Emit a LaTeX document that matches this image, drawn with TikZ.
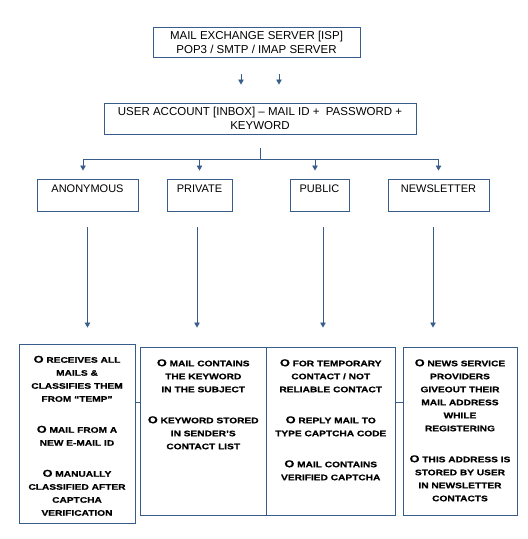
\documentclass[tikz,border=0pt]{standalone}
\usepackage{fontspec}
\setmainfont{Liberation Sans}
\newfontfamily\notefont{Liberation Sans Bold}[FakeStretch=1.27,FakeBold=0.6]
\usepackage{tikz}
\usetikzlibrary{positioning,arrows.meta}

\definecolor{linkblue}{HTML}{385D8A}
\newcommand\capO{{\fontsize{10}{13}\selectfont O}}

\begin{document}
\begin{tikzpicture}[
  x=1pt, y=-1pt,
  boxline/.style={draw=linkblue,line width=0.9pt,rectangle,inner sep=0pt},
  headbox/.style={boxline,align=center,font=\fontsize{11.5}{13.8}\selectfont},
  catbox/.style={boxline,minimum height=32pt},
  catlabel/.style={inner sep=2pt,font=\fontsize{11}{13}\selectfont},
  notebox/.style={boxline,minimum height=168pt},
  notetext/.style={inner sep=2pt,align=center,font=\notefont\fontsize{8}{13}\selectfont},
  line/.style={draw=linkblue,line width=0.8pt},
  flow/.style={line,-{Triangle[length=5pt,width=5.5pt]}}
]
\useasboundingbox (0,0) rectangle (528,539);

% server and account
\node[headbox,minimum width=207pt,minimum height=30pt] (server) at (256.5,42)
  {MAIL EXCHANGE SERVER [ISP]\\POP3 / SMTP / IMAP SERVER};
\node[headbox,minimum width=312pt,minimum height=31pt] (user) at (260,118.5)
  {USER ACCOUNT [INBOX] – MAIL ID +\ \ PASSWORD +\\KEYWORD};

% the four kinds of mail
\node[catbox,minimum width=101pt] (anon) at (87.5,195) {};
\node[catbox,minimum width=65pt] (priv) at (199.5,195) {};
\node[catbox,minimum width=59pt] (pub) at (319.5,195) {};
\node[catbox,minimum width=101pt] (news) at (438.5,195) {};
\node[catlabel,below=4.5pt of anon.north] (anonlbl) {ANONYMOUS};
\node[catlabel,below=4.5pt of priv.north] (privlbl) {PRIVATE};
\node[catlabel,below=4.5pt of pub.north] (publbl) {PUBLIC};
\node[catlabel,below=4.5pt of news.north] (newslbl) {NEWSLETTER};

% notes
\node[notebox,minimum width=116pt,minimum height=179pt] (note1) at (77,433.5) {};
\node[notebox,minimum width=126.5pt] (note2) at (203.25,431) {};
\node[notebox,minimum width=128.5pt] (note3) at (330.75,431) {};
\node[notebox,minimum width=114pt] (note4) at (460,431) {};

\node[notetext,below=10pt of note1.north] (note1txt)
  {\capO\ RECEIVES ALL\\MAILS \&\\CLASSIFIES THEM\\FROM “TEMP”\\[18pt]
   \capO\ MAIL FROM A\\NEW E-MAIL ID\\[18pt]
   \capO\ MANUALLY\\CLASSIFIED AFTER\\CAPTCHA\\VERIFICATION};
\node[notetext,below=10.5pt of note2.north] (note2txt)
  {\capO\ MAIL CONTAINS\\THE KEYWORD\\IN THE SUBJECT\\[18pt]
   \capO\ KEYWORD STORED\\IN SENDER’S\\CONTACT LIST};
\node[notetext,below=10.5pt of note3.north] (note3txt)
  {\capO\ FOR TEMPORARY\\CONTACT / NOT\\RELIABLE CONTACT\\[18pt]
   \capO\ REPLY MAIL TO\\TYPE CAPTCHA CODE\\[18pt]
   \capO\ MAIL CONTAINS\\VERIFIED CAPTCHA};
\node[notetext,below=10.5pt of note4.north] (note4txt)
  {\capO\ NEWS SERVICE\\PROVIDERS\\GIVEOUT THEIR\\MAIL ADDRESS\\WHILE\\REGISTERING\\[18pt]
   \capO\ THIS ADDRESS IS\\STORED BY USER\\IN NEWSLETTER\\CONTACTS};

% connectors
\coordinate (fork) at ([yshift=-25pt]user.south);
\coordinate (mid) at (0,402);

\draw[flow,shorten <=17pt,shorten >=18pt] ([xshift=-15.5pt]server.south) -- ([xshift=-15.5pt]server.south |- user.north);
\draw[flow,shorten <=17pt,shorten >=18pt] ([xshift=22.5pt]server.south) -- ([xshift=22.5pt]server.south |- user.north);

\draw[line,shorten <=14pt] (user.south) -- (fork);
\draw[flow,shorten >=8pt] (fork) -| ([xshift=-4.5pt]anon.north);
\draw[flow,shorten >=8pt] (fork) -| (priv.north);
\draw[flow,shorten >=8pt] (fork) -| ([xshift=-4.5pt]pub.north);
\draw[flow,shorten >=8pt] (fork) -| (news.north);

\draw[flow,shorten <=16pt,shorten >=16pt] (anon.south) -- (anon.south |- note1.north);
\draw[flow,shorten <=16pt,shorten >=19pt] ([xshift=-2.5pt]priv.south) -- ([xshift=-2.5pt]priv.south |- note2.north);
\draw[flow,shorten <=16pt,shorten >=19pt] ([xshift=3.5pt]pub.south) -- ([xshift=3.5pt]pub.south |- note3.north);
\draw[flow,shorten <=16pt,shorten >=19pt] ([xshift=-5.5pt]news.south) -- ([xshift=-5.5pt]news.south |- note4.north);

\draw[line] (note1.east |- mid) -- (note2.west |- mid);
\draw[line] (note3.east |- mid) -- (note4.west |- mid);
\end{tikzpicture}
\end{document}
